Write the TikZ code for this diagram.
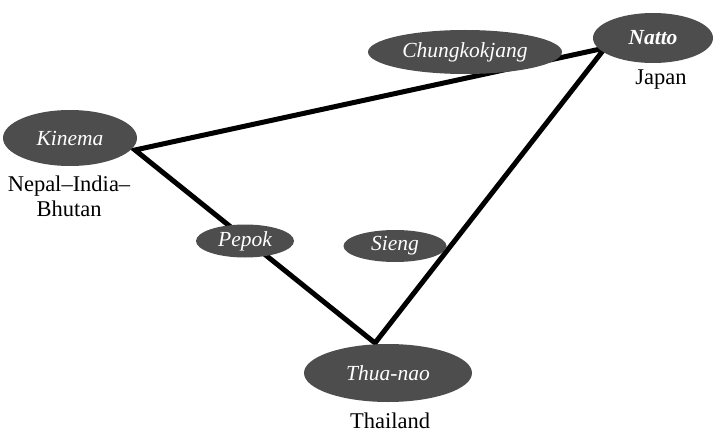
\documentclass[tikz,border=0pt]{standalone}
\usepackage{fontspec}
\setmainfont{Liberation Serif}
\usetikzlibrary{shapes.geometric}
\definecolor{food}{HTML}{4D4D4D}
\begin{document}
\begin{tikzpicture}[x=1pt,y=-1pt,
  food/.style={ellipse, fill=food, draw=none, inner sep=0pt,
    text=white, font=\fontsize{21.5}{24}\selectfont\itshape},
  region/.style={font=\fontsize{22.5}{25}\selectfont, align=center},
  link/.style={line width=5pt, line cap=round, black}]
\useasboundingbox (0,0) rectangle (723,433);
% corners where the links meet
\coordinate (kv) at (135,150);
\coordinate (nv) at (605,48);
\coordinate (tv) at (375,343);
\draw[link] (kv) -- (nv) -- (tv) -- cycle;
% ferments
\node[food, minimum width=134pt, minimum height=56pt] (kinema) at (70,138) {Kinema};
\node[food, minimum width=120pt, minimum height=50pt] (natto) at (653,38) {\bfseries Natto};
\node[food, minimum width=194pt, minimum height=44pt] (chung) at (465,52) {Chungkokjang};
\node[food, minimum width=98pt, minimum height=33pt] (pepok) at (245,241) {Pepok};
\node[food, minimum width=103pt, minimum height=32pt] (sieng) at (395,246) {Sieng};
\node[food, minimum width=168pt, minimum height=58pt] (thua) at (388,373) {Thua-nao};
% places
\node[region] (japan) at (661,80) {Japan};
\node[region] (nib) at (69,196) {Nepal–India–\\Bhutan};
\node[region] (thai) at (390,421) {Thailand};
\end{tikzpicture}
\end{document}
